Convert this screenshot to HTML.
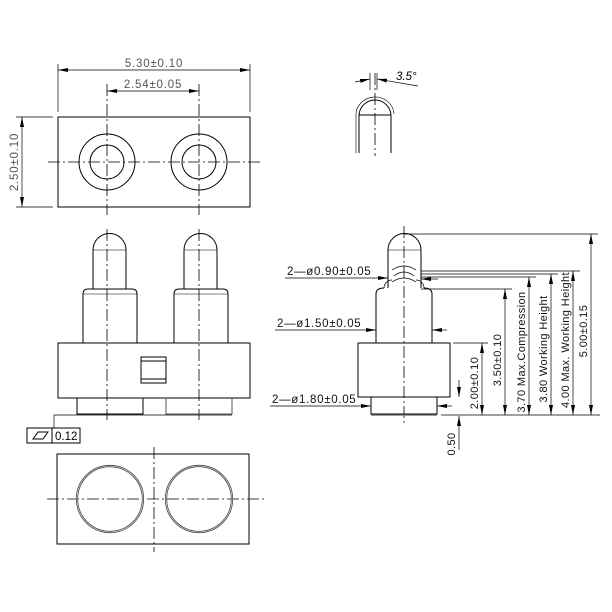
<!DOCTYPE html>
<html><head><meta charset="utf-8"><style>html,body{margin:0;padding:0;background:#fff}svg{display:block}</style></head><body>
<svg width="612" height="612" viewBox="0 0 612 612" xmlns="http://www.w3.org/2000/svg" font-family="Liberation Sans, sans-serif" font-size="11" fill="none" stroke="#000" stroke-width="1">
<defs>
<marker id="a" markerWidth="10" markerHeight="6" refX="10" refY="3" orient="auto-start-reverse" markerUnits="userSpaceOnUse"><path d="M0,1 L10,3 L0,5 z" fill="#000" stroke="none"/></marker>
</defs>
<g stroke-dasharray="12,3,2,3" stroke-width="0.8">
<line x1="107" y1="84" x2="107" y2="215"/><line x1="199" y1="84" x2="199" y2="215"/>
<line x1="48" y1="162" x2="260" y2="162"/>
<line x1="107" y1="229" x2="107" y2="420"/><line x1="199" y1="229" x2="199" y2="420"/>
<line x1="47" y1="499" x2="265" y2="499"/><line x1="154" y1="447" x2="154" y2="552"/>
<line x1="404" y1="226" x2="404" y2="425"/>
<line x1="375" y1="73" x2="375" y2="156"/>
</g>
<rect x="58" y="117" width="192" height="90"/>
<circle cx="107" cy="162" r="28"/><circle cx="107" cy="162" r="17"/>
<circle cx="199" cy="162" r="28"/><circle cx="199" cy="162" r="17"/>
<line x1="58" y1="64" x2="58" y2="112" stroke-width="0.7"/><line x1="250" y1="64" x2="250" y2="112" stroke-width="0.7"/>
<line x1="58" y1="70" x2="250" y2="70" stroke-width="0.7" marker-start="url(#a)" marker-end="url(#a)"/>
<line x1="107" y1="91" x2="199" y2="91" stroke-width="0.7" marker-start="url(#a)" marker-end="url(#a)"/>
<line x1="16" y1="117" x2="53" y2="117" stroke-width="0.7"/><line x1="16" y1="207" x2="53" y2="207" stroke-width="0.7"/>
<line x1="22" y1="117" x2="22" y2="207" stroke-width="0.7" marker-start="url(#a)" marker-end="url(#a)"/>
<g fill="#555" stroke="none" font-size="11.5" letter-spacing="0.8">
<text x="154" y="67" text-anchor="middle">5.30±0.10</text>
<text x="153" y="88" text-anchor="middle">2.54±0.05</text>
<text transform="translate(18,162) rotate(-90)" text-anchor="middle">2.50±0.10</text>
</g>
<g id="pin">
<path d="M93,289 V250 A16.5,16.5 0 0 1 126,250 V289"/>
<line x1="93" y1="250" x2="126" y2="250" stroke-width="0.6"/>
<path d="M83,343 V294 Q83,289 88,289 H132 Q137,289 137,294 V343"/>
<line x1="83" y1="294" x2="137" y2="294" stroke-width="0.6"/>
</g>
<use href="#pin" transform="translate(91,0)"/>
<rect x="58" y="343" width="192" height="55"/>
<rect x="141" y="357" width="25" height="26"/>
<line x1="141" y1="361" x2="166" y2="361"/><line x1="141" y1="379" x2="166" y2="379"/>
<path d="M77,398 V414 H143 V398"/>
<path d="M166,398 V414 H232 V398" stroke="#555"/>
<line x1="54" y1="415" x2="232" y2="415" stroke-width="0.7"/>
<line x1="54" y1="415" x2="54" y2="428" stroke-width="0.7"/>
<rect x="27" y="428" width="53" height="15"/>
<line x1="52" y1="428" x2="52" y2="443"/>
<path d="M33,439 L38,432 H48 L43,439 Z"/>
<text x="55" y="440" fill="#000" stroke="none" font-size="11.5">0.12</text>
<rect x="57" y="454" width="192" height="90"/>
<circle cx="110" cy="499" r="33" stroke-width="2.2" stroke="#444"/><circle cx="110" cy="499" r="33" stroke="#fff" stroke-width="0.6"/>
<circle cx="199" cy="499" r="33" stroke-width="2.2" stroke="#444"/><circle cx="199" cy="499" r="33" stroke="#fff" stroke-width="0.6"/>
<path d="M359,153 V116 A16,16 0 0 1 391,116 V153"/>
<path d="M356,153 V116 A19,18 0 0 1 394,114" stroke-width="0.6"/>
<line x1="359" y1="115" x2="391" y2="115"/>
<line x1="370" y1="73" x2="370" y2="90" stroke-width="0.7"/><line x1="377" y1="73" x2="377" y2="90" stroke-width="0.7"/>
<line x1="355" y1="82" x2="370" y2="79" stroke-width="0.7" marker-end="url(#a)"/>
<line x1="418" y1="86" x2="377" y2="79" stroke-width="0.7" marker-end="url(#a)"/>
<text x="396" y="80" fill="#000" stroke="none" font-style="italic" font-size="11.5">3.5°</text>
<path d="M388,288 V250 A16.5,16.5 0 0 1 421,250 V288"/>
<line x1="388" y1="250" x2="421" y2="250" stroke-width="0.6"/>
<path d="M376,343 V294 Q376,288 384,288 M432,343 V294 Q432,288 424,288" />
<path d="M384,288 A8,8 0 0 1 392,280 M424,288 A8,8 0 0 0 416,280" stroke-width="0.7"/>
<path d="M392,270 Q404,262 416,270 M394,276 Q404,268 414,276 M392,282 Q404,274 416,282" stroke-width="0.7"/>
<rect x="358" y="343" width="92" height="54"/>
<path d="M371,397 V414 H437 V397"/>
<line x1="371" y1="415" x2="437" y2="415" stroke="#666" stroke-width="1.2"/>
<g stroke-width="0.7">
<line x1="404" y1="234" x2="598" y2="234"/>
<line x1="421" y1="271" x2="580" y2="271"/>
<line x1="421" y1="274" x2="558" y2="274"/>
<line x1="421" y1="277" x2="536" y2="277"/>
<line x1="421" y1="289" x2="512" y2="289"/>
<line x1="453" y1="343" x2="488" y2="343"/>
<line x1="441" y1="415" x2="600" y2="415"/>
<line x1="482" y1="343" x2="482" y2="415" marker-start="url(#a)" marker-end="url(#a)"/>
<line x1="505" y1="289" x2="505" y2="415" marker-start="url(#a)" marker-end="url(#a)"/>
<line x1="529" y1="277" x2="529" y2="415" marker-start="url(#a)" marker-end="url(#a)"/>
<line x1="551" y1="274" x2="551" y2="415" marker-start="url(#a)" marker-end="url(#a)"/>
<line x1="573" y1="271" x2="573" y2="415" marker-start="url(#a)" marker-end="url(#a)"/>
<line x1="591" y1="234" x2="591" y2="415" marker-start="url(#a)" marker-end="url(#a)"/>
<line x1="459" y1="380" x2="459" y2="397" marker-end="url(#a)"/>
<line x1="459" y1="450" x2="459" y2="416" marker-end="url(#a)"/>
<line x1="285" y1="278" x2="388" y2="278" marker-end="url(#a)"/>
<line x1="438" y1="279" x2="421" y2="279" marker-end="url(#a)"/>
<line x1="275" y1="330" x2="376" y2="330" marker-end="url(#a)"/>
<line x1="447" y1="330" x2="432" y2="330" marker-end="url(#a)"/>
<line x1="270" y1="406" x2="371" y2="406" marker-end="url(#a)"/>
<line x1="452" y1="406" x2="437" y2="406" marker-end="url(#a)"/>
</g>
<g fill="#111" stroke="none" font-size="11.5" letter-spacing="0.7">
<text x="287" y="275">2—ø0.90±0.05</text>
<text x="277" y="327">2—ø1.50±0.05</text>
<text x="272" y="403">2—ø1.80±0.05</text>
</g>
<g fill="#111" stroke="none" letter-spacing="0.4">
<text transform="translate(478,383) rotate(-90)" text-anchor="middle">2.00±0.10</text>
<text transform="translate(501,360) rotate(-90)" text-anchor="middle">3.50±0.10</text>
<text transform="translate(525,352) rotate(-90)" text-anchor="middle">3.70 Max.Compression</text>
<text transform="translate(547,349) rotate(-90)" text-anchor="middle">3.80  Working  Height</text>
<text transform="translate(569,340) rotate(-90)" text-anchor="middle">4.00  Max.  Working  Height</text>
<text transform="translate(587,331) rotate(-90)" text-anchor="middle">5.00±0.15</text>
<text transform="translate(455,444) rotate(-90)" text-anchor="middle">0.50</text>
</g>
</svg>
</body></html>
